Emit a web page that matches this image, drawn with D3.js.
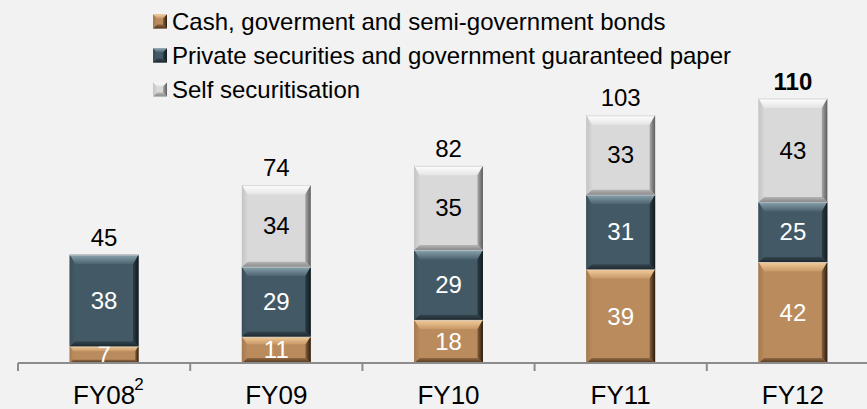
<!DOCTYPE html>
<html>
<head>
<meta charset="utf-8">
<script src="https://cdn.jsdelivr.net/npm/d3@7"></script>
<style>
  html, body { margin: 0; padding: 0; background: #f2f2f2; }
  svg { display: block; font-family: "Liberation Sans", Arial, sans-serif; }
</style>
</head>
<body>
<svg id="chart" width="867" height="409"></svg>
<script>
// data
const cats = ["FY08", "FY09", "FY10", "FY11", "FY12"];
const cash = [7, 11, 18, 39, 42];
const priv = [38, 29, 29, 31, 25];
const self = [0, 34, 35, 33, 43];
const totals = [45, 74, 82, 103, 110];
const seriesNames = [
  "Cash, goverment and semi-government bonds",
  "Private securities and government guaranteed paper",
  "Self securitisation"
];

// palettes for the bevelled look
const pals = [
  {key: "cash", base: "#b98b5d", t: ["#f3cd9c", "#c79866"], b: ["#8f6842", "#4e361e"], l: ["#a57a4f", "#b78a5c"], r: ["#86613d", "#2a1c0e"], lab: "#fff"},
  {key: "priv", base: "#435a66", t: ["#8aa4b0", "#4b626e"], b: ["#34464f", "#1e292f"], l: ["#394e59", "#435a66"], r: ["#2c3c44", "#111a1e"], lab: "#fff"},
  {key: "self", base: "#d9d9d9", t: ["#ffffff", "#e4e4e4"], b: ["#b5b5b5", "#8a8a8a"], l: ["#c4c4c4", "#d6d6d6"], r: ["#a9a9a9", "#5c5c5c"], lab: "#000"}
];

const svg = d3.select("#chart");
const defs = svg.append("defs");
function grad(id, c, vertical){
  let g = defs.append("linearGradient").attr("id", id)
    .attr("x1", 0).attr("y1", 0).attr("x2", vertical ? 0 : 1).attr("y2", vertical ? 1 : 0);
  g.append("stop").attr("offset", "0%").attr("stop-color", c[0]);
  g.append("stop").attr("offset", "100%").attr("stop-color", c[1]);
}
pals.forEach(p => {
  grad(p.key + "-t", p.t, true);
  grad(p.key + "-b", p.b, true);
  grad(p.key + "-l", p.l, false);
  grad(p.key + "-r", p.r, false);
});

const x = d3.scaleBand().domain(cats).range([18, 879]).paddingInner(0).paddingOuter(0);
const y = d3.scaleLinear().domain([0, 110]).range([363, 98.5]);
const barW = x.bandwidth() * 0.4;

// bevelled box: top bevel bt, sides bs, bottom bb
function bevel(g, x0, y0, x1, y1, bt, bs, bb, p){
  const pts = a => a.map(d => d.join(",")).join(" ");
  g.append("rect").attr("x", x0).attr("y", y0).attr("width", x1 - x0).attr("height", y1 - y0).attr("fill", p.base);
  g.append("polygon").attr("points", pts([[x0,y0],[x1,y0],[x1-bs,y0+bt],[x0+bs,y0+bt]])).attr("fill", `url(#${p.key}-t)`);
  g.append("polygon").attr("points", pts([[x0,y1],[x1,y1],[x1-bs,y1-bb],[x0+bs,y1-bb]])).attr("fill", `url(#${p.key}-b)`);
  g.append("polygon").attr("points", pts([[x0,y0],[x0+bs,y0+bt],[x0+bs,y1-bb],[x0,y1]])).attr("fill", `url(#${p.key}-l)`);
  g.append("polygon").attr("points", pts([[x1,y0],[x1-bs,y0+bt],[x1-bs,y1-bb],[x1,y1]])).attr("fill", `url(#${p.key}-r)`);
}

// stacked bars
const series = [cash, priv, self];
const bars = svg.append("g");
cats.forEach((c, i) => {
  let acc = 0;
  const x0 = x(c) + (x.bandwidth() - barW) / 2;
  series.forEach((s, k) => {
    const v = s[i];
    if (!v) return;
    const yt = y(acc + v), yb = y(acc);
    const h = yb - yt;
    const g = bars.append("g");
    bevel(g, x0, yt, x0 + barW, yb, Math.min(9.5, h * 0.3), Math.min(5.5, h * 0.2), Math.min(5, h * 0.2), pals[k]);
    g.append("line").attr("x1", x0).attr("x2", x0 + barW).attr("y1", yt + 0.5).attr("y2", yt + 0.5)
      .attr("stroke", "#c8c8c8").attr("stroke-opacity", 0.7).attr("stroke-width", 1);
    g.append("text").attr("x", x0 + barW / 2).attr("y", (yt + yb) / 2)
      .attr("dy", "0.35em").attr("text-anchor", "middle")
      .attr("font-size", 24).attr("fill", pals[k].lab).text(v);
    acc += v;
  });
  svg.append("text").attr("x", x(c) + x.bandwidth() / 2).attr("y", y(totals[i]) - 9)
    .attr("text-anchor", "middle").attr("font-size", 24)
    .attr("font-weight", i === cats.length - 1 ? "bold" : "normal")
    .attr("fill", "#000").text(totals[i]);
});

// axis
const axis = svg.append("g");
axis.append("line").attr("x1", 18).attr("x2", 867).attr("y1", 363).attr("y2", 363)
  .attr("stroke", "#8c8c8c").attr("stroke-width", 2);
cats.concat(["end"]).forEach((c, i) => {
  const tx = 18 + i * x.bandwidth();
  axis.append("line").attr("x1", tx).attr("x2", tx).attr("y1", 363).attr("y2", 371)
    .attr("stroke", "#8c8c8c").attr("stroke-width", 2);
});
cats.forEach((c, i) => {
  const t = axis.append("text").attr("x", x(c) + x.bandwidth() / 2).attr("y", 404)
    .attr("text-anchor", "middle").attr("font-size", 26).attr("fill", "#000").text(c);
  if (i === 0) {
    const bb = t.node().getBBox();
    axis.append("text").attr("x", bb.x + bb.width - 1).attr("y", 390)
      .attr("font-size", 17).attr("fill", "#000").text("2");
  }
});

// legend
const leg = svg.append("g");
seriesNames.forEach((n, k) => {
  const ly = 29.5 + k * 34;
  const g = leg.append("g");
  bevel(g, 153, ly - 15, 167, ly - 1, 4, 4, 4, pals[k]);
  g.append("text").attr("x", 172).attr("y", ly).attr("font-size", 24).attr("fill", "#000").text(n);
});
</script>
</body>
</html>
